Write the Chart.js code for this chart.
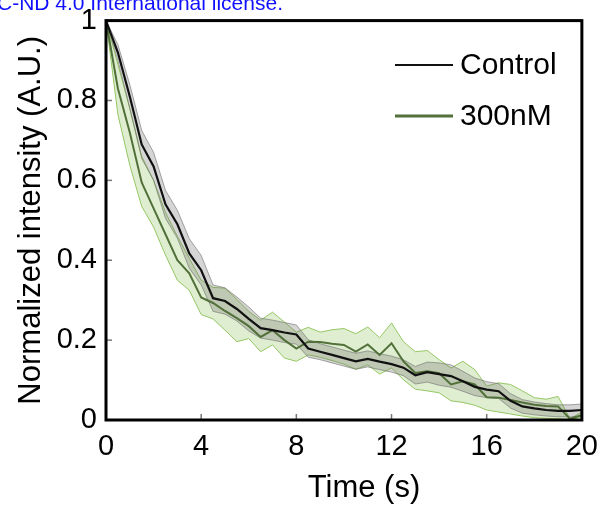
<!DOCTYPE html>
<html>
<head>
<meta charset="utf-8">
<script src="https://cdn.jsdelivr.net/npm/chart.js@4.4.1/dist/chart.umd.min.js"></script>
<style>
  html, body { margin: 0; padding: 0; background: #fff; }
  #wrap { width: 608px; height: 506px; }
</style>
</head>
<body>
<div id="wrap"><canvas id="fig" width="608" height="506"></canvas></div>
<script>
// time points (s)
const times = [0, 0.5, 1, 1.5, 2, 2.5, 3, 3.5, 4, 4.5, 5, 5.5, 6, 6.5, 7, 7.5, 8, 8.5, 9, 9.5,
  10, 10.5, 11, 11.5, 12, 12.5, 13, 13.5, 14, 14.5, 15, 15.5, 16, 16.5, 17, 17.5, 18, 18.5, 19, 19.5, 20];

// Control: mean and band
const ctrlMean = [1.0, 0.92, 0.81, 0.69, 0.635, 0.54, 0.49, 0.417, 0.375, 0.305, 0.298, 0.278, 0.253, 0.23, 0.225, 0.219, 0.214, 0.179, 0.171, 0.163,
  0.155, 0.147, 0.153, 0.146, 0.14, 0.131, 0.112, 0.12, 0.115, 0.11, 0.097, 0.083, 0.076, 0.072, 0.048, 0.034, 0.029, 0.025, 0.023, 0.023, 0.025];
const ctrlHi = [1.0, 0.94, 0.84, 0.725, 0.67, 0.575, 0.525, 0.454, 0.412, 0.338, 0.331, 0.308, 0.283, 0.255, 0.25, 0.244, 0.238, 0.201, 0.191, 0.183,
  0.175, 0.167, 0.173, 0.166, 0.16, 0.151, 0.134, 0.145, 0.143, 0.138, 0.122, 0.105, 0.096, 0.091, 0.066, 0.051, 0.045, 0.041, 0.038, 0.038, 0.04];
const ctrlLo = [1.0, 0.90, 0.78, 0.655, 0.60, 0.505, 0.455, 0.38, 0.338, 0.272, 0.265, 0.248, 0.223, 0.205, 0.2, 0.194, 0.19, 0.157, 0.151, 0.143,
  0.135, 0.127, 0.133, 0.126, 0.12, 0.111, 0.09, 0.095, 0.087, 0.082, 0.072, 0.061, 0.056, 0.054, 0.03, 0.017, 0.013, 0.01, 0.008, 0.008, 0.01];

// 300nM: mean and band
const drugMean = [1.0, 0.83, 0.72, 0.595, 0.53, 0.465, 0.40, 0.367, 0.307, 0.293, 0.273, 0.255, 0.235, 0.208, 0.225, 0.2, 0.179, 0.196, 0.195, 0.191,
  0.188, 0.171, 0.189, 0.163, 0.192, 0.147, 0.118, 0.122, 0.117, 0.089, 0.097, 0.089, 0.057, 0.056, 0.05, 0.044, 0.038, 0.035, 0.034, 0.003, 0.012];
const drugHi = [1.0, 0.89, 0.78, 0.66, 0.6, 0.52, 0.46, 0.405, 0.35, 0.332, 0.33, 0.302, 0.272, 0.25, 0.27, 0.245, 0.22, 0.232, 0.22, 0.226,
  0.229, 0.216, 0.233, 0.206, 0.243, 0.196, 0.171, 0.174, 0.151, 0.13, 0.147, 0.126, 0.085, 0.093, 0.089, 0.073, 0.056, 0.052, 0.059, 0.003, 0.02];
const drugLo = [1.0, 0.765, 0.638, 0.535, 0.483, 0.413, 0.35, 0.325, 0.264, 0.253, 0.225, 0.196, 0.204, 0.171, 0.188, 0.155, 0.147, 0.163, 0.157, 0.149,
  0.14, 0.127, 0.138, 0.115, 0.13, 0.101, 0.077, 0.073, 0.068, 0.048, 0.044, 0.037, 0.025, 0.02, 0.015, 0.01, 0.006, 0.004, 0.003, 0.0, 0.008];

// ticks
const xTicks = [0, 4, 8, 12, 16, 20];
const yTicks = [0, 0.2, 0.4, 0.6, 0.8, 1];
const yTickLabels = ['0', '0.2', '0.4', '0.6', '0.8', '1'];

const seriesNames = ['Control', '300nM'];
const noteText = 'C-ND 4.0 International license.';

const FONT = 'Arial, "Liberation Sans", sans-serif';
const colors = {
  ctrl: '#111111',
  drug: '#52703a',
  ctrlFill: 'rgba(105, 105, 105, 0.28)',
  ctrlEdge: 'rgba(110, 110, 110, 0.6)',
  drugFill: 'rgba(150, 200, 100, 0.3)',
  drugEdge: '#95c764'
};

function pts(arr) {
  return times.map((t, i) => ({ x: t, y: arr[i] }));
}

// frame, inward ticks, axis titles, legend and note
const decor = {
  id: 'decor',
  beforeDraw(chart) {
    const c = chart.ctx;
    c.save();
    c.fillStyle = '#fff';
    c.fillRect(0, 0, chart.width, chart.height);
    c.font = '21px ' + FONT;
    c.fillStyle = '#1010ff';
    c.textBaseline = 'alphabetic';
    c.textAlign = 'left';
    c.fillText(noteText, -3, 9.5);
    c.restore();
  },
  afterDraw(chart) {
    const c = chart.ctx;
    const a = chart.chartArea;
    const xs = chart.scales.x, ys = chart.scales.y;
    c.save();

    // inward ticks
    c.strokeStyle = '#777';
    c.lineWidth = 1.5;
    xs.ticks.forEach(t => {
      const px = xs.getPixelForValue(t.value);
      c.beginPath(); c.moveTo(px, a.bottom); c.lineTo(px, a.bottom - 6); c.stroke();
    });
    ys.ticks.forEach(t => {
      const py = ys.getPixelForValue(t.value);
      c.beginPath(); c.moveTo(a.left, py); c.lineTo(a.left + 6, py); c.stroke();
    });

    // frame
    c.strokeStyle = '#000';
    c.lineWidth = 3;
    c.strokeRect(a.left, a.top, a.right - a.left, a.bottom - a.top);

    // axis titles
    c.fillStyle = '#000';
    c.font = '31px ' + FONT;
    c.textAlign = 'center';
    c.textBaseline = 'alphabetic';
    c.fillText('Time (s)', 364, 497);
    c.save();
    c.translate(40, (a.top + a.bottom) / 2);
    c.rotate(-Math.PI / 2);
    c.fillText('Normalized intensity (A.U.)', 0, 0);
    c.restore();

    // legend
    c.font = '30px ' + FONT;
    const rows = [
      { label: chart.data.datasets[0].label, color: colors.ctrl, w: 2, y: 65 },
      { label: chart.data.datasets[1].label, color: colors.drug, w: 3, y: 116 }
    ];
    rows.forEach(r => {
      c.strokeStyle = r.color;
      c.lineWidth = r.w;
      c.beginPath(); c.moveTo(395, r.y); c.lineTo(453, r.y); c.stroke();
      c.textAlign = 'left';
      c.textBaseline = 'middle';
      c.fillText(r.label, 460, r.y + 1);
    });
    c.restore();
  }
};

new Chart(document.getElementById('fig'), {
  type: 'line',
  data: {
    datasets: [
      { label: seriesNames[0], data: pts(ctrlMean), borderColor: colors.ctrl, borderWidth: 2.2, pointRadius: 0, fill: false },
      { label: seriesNames[1], data: pts(drugMean), borderColor: colors.drug, borderWidth: 2, pointRadius: 0, fill: false },
      { label: 'ctrl hi', data: pts(ctrlHi), borderColor: colors.ctrlEdge, borderWidth: 1, pointRadius: 0,
        fill: '+1', backgroundColor: colors.ctrlFill },
      { label: 'ctrl lo', data: pts(ctrlLo), borderColor: colors.ctrlEdge, borderWidth: 1, pointRadius: 0, fill: false },
      { label: 'drug hi', data: pts(drugHi), borderColor: colors.drugEdge, borderWidth: 1, pointRadius: 0,
        fill: '+1', backgroundColor: colors.drugFill },
      { label: 'drug lo', data: pts(drugLo), borderColor: colors.drugEdge, borderWidth: 1, pointRadius: 0, fill: false }
    ]
  },
  options: {
    responsive: false,
    animation: false,
    layout: { padding: { top: 13, right: 23, left: 0, bottom: 0 } },
    plugins: {
      legend: { display: false },
      tooltip: { enabled: false }
    },
    scales: {
      x: {
        type: 'linear',
        min: 0,
        max: 20,
        afterBuildTicks: s => { s.ticks = xTicks.map(v => ({ value: v })); },
        afterFit: s => { s.height = 86; },
        grid: { display: false, drawTicks: false },
        border: { display: false },
        ticks: {
          color: '#000',
          padding: 10,
          maxRotation: 0,
          font: { family: FONT, size: 29 },
          callback: v => String(v)
        }
      },
      y: {
        min: 0,
        max: 1,
        afterBuildTicks: s => { s.ticks = yTicks.map(v => ({ value: v })); },
        afterFit: s => { s.width = 106; },
        grid: { display: false, drawTicks: false },
        border: { display: false },
        ticks: {
          color: '#000',
          padding: 9,
          font: { family: FONT, size: 29, lineHeight: 0.8 },
          callback: (v, i) => yTickLabels[i]
        }
      }
    }
  },
  plugins: [decor]
});
</script>
</body>
</html>
